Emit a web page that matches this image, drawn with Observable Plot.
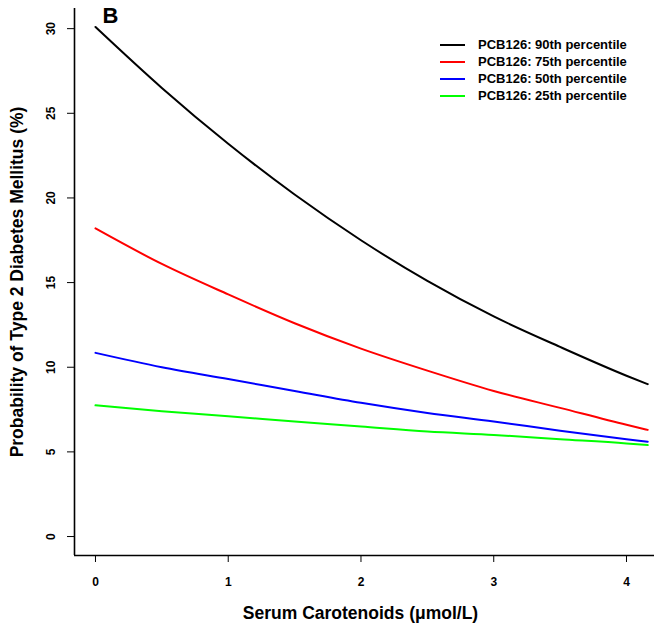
<!DOCTYPE html>
<html>
<head>
<meta charset="utf-8">
<script src="https://cdn.jsdelivr.net/npm/d3@7"></script>
<script src="https://cdn.jsdelivr.net/npm/@observablehq/plot@0.6"></script>
<style>
  body { margin: 0; background: white; font-family: "Liberation Sans", Arial, sans-serif; }
  #wrap { position: relative; width: 654px; height: 628px; }
  #legend { position: absolute; left: 440px; top: 36px; font-size: 13px; font-weight: bold; line-height: 17px; }
  #legend .row { display: flex; align-items: center; white-space: nowrap; }
  #legend .sw { width: 25px; height: 2px; margin-right: 13px; }
</style>
</head>
<body>
<div id="wrap"><div id="legend"></div></div>
<script>
// Serum carotenoids (µmol/L)
const carotenoids = [0, 0.5, 1, 1.5, 2, 2.5, 3, 3.5, 4, 4.16];
// Probability of type 2 diabetes (%) for each PCB126 percentile
const p90 = [30.1, 26.5, 23.2, 20.2, 17.5, 15.1, 13.0, 11.2, 9.5, 9.0];
const p75 = [18.2, 16.1, 14.3, 12.6, 11.1, 9.8, 8.6, 7.6, 6.6, 6.3];
const p50 = [10.85, 10.0, 9.3, 8.6, 7.9, 7.3, 6.8, 6.25, 5.75, 5.6];
const p25 = [7.75, 7.4, 7.1, 6.8, 6.5, 6.2, 6.0, 5.75, 5.5, 5.4];
const seriesNames = ["PCB126: 90th percentile", "PCB126: 75th percentile", "PCB126: 50th percentile", "PCB126: 25th percentile"];
const seriesColors = ["#000000", "#ff0000", "#0000ff", "#00ff00"];
const xTicks = [0, 1, 2, 3, 4];
const yTicks = [0, 5, 10, 15, 20, 25, 30];
const xDomain = [-0.158, 4.211];
const yDomain = [-1.12, 31.19];

const allSeries = [p90, p75, p50, p25];
const rows = allSeries.flatMap((vals, s) => vals.map((v, i) => ({x: carotenoids[i], y: v, series: seriesNames[s]})));

const chart = Plot.plot({
  width: 654,
  height: 628,
  marginLeft: 74,
  marginTop: 8,
  marginBottom: 73,
  marginRight: 0,
  style: {fontFamily: "'Liberation Sans', Arial, sans-serif", background: "white", color: "black"},
  x: {domain: xDomain},
  y: {domain: yDomain},
  color: {domain: seriesNames, range: seriesColors},
  marks: [
    Plot.ruleX([xDomain[0]], {stroke: "black", strokeWidth: 1.6}),
    Plot.ruleY([yDomain[0]], {stroke: "black", strokeWidth: 1.6}),
    Plot.axisX({ticks: xTicks, tickSize: 7, tickPadding: 15, fontSize: 12, fontWeight: "bold", label: null, tickFormat: d => String(d)}),
    Plot.axisY({ticks: yTicks, tickSize: 7, tickFormat: () => "", label: null}),
    Plot.text(yTicks, {y: d => d, text: d => String(d), frameAnchor: "left", dx: -23, rotate: -90, textAnchor: "middle", lineAnchor: "middle", fontSize: 12, fontWeight: "bold"}),
    Plot.line(rows, {x: "x", y: "y", stroke: "series", z: "series", strokeWidth: 2, curve: "monotone-x"}),
    Plot.text(["Probability of Type 2 Diabetes Mellitus (%)"], {frameAnchor: "left", dx: -57, dy: 0, rotate: -90, textAnchor: "middle", lineAnchor: "middle", fontSize: 17.5, fontWeight: "bold"}),
    Plot.text(["Serum Carotenoids (μmol/L)"], {frameAnchor: "bottom", dx: -4, dy: 58, textAnchor: "middle", lineAnchor: "middle", fontSize: 17.5, fontWeight: "bold"}),
    Plot.text(["B"], {frameAnchor: "top-left", dx: 36, dy: 7, textAnchor: "middle", lineAnchor: "middle", fontSize: 22, fontWeight: "bold"})
  ]
});
document.getElementById("wrap").prepend(chart);

const legend = document.getElementById("legend");
seriesNames.forEach((name, i) => {
  const row = document.createElement("div");
  row.className = "row";
  const sw = document.createElement("span");
  sw.className = "sw";
  sw.style.background = seriesColors[i];
  const label = document.createElement("span");
  label.textContent = name;
  row.append(sw, label);
  legend.append(row);
});
</script>
</body>
</html>
